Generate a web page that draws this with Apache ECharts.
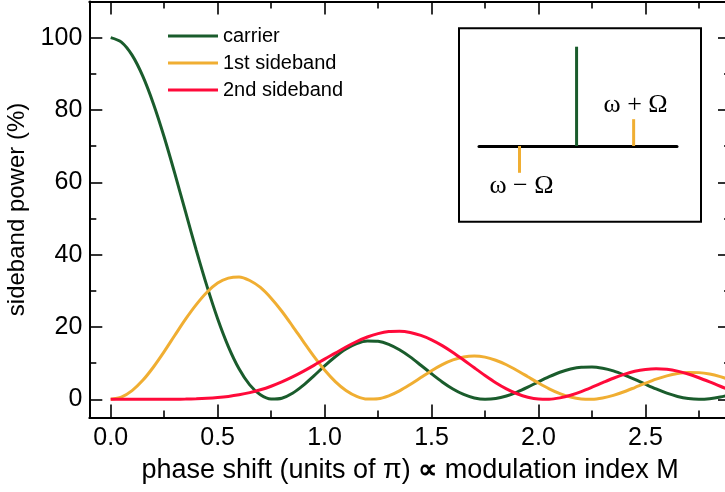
<!DOCTYPE html>
<html>
<head>
<meta charset="utf-8">
<title>Sideband power vs. phase shift</title>
<script src="https://cdn.jsdelivr.net/npm/echarts@6/dist/echarts.min.js"></script>
<style>
  html, body { margin: 0; padding: 0; background: #fff; }
  #chart { width: 725px; height: 492px; }
</style>
</head>
<body>
<div id="chart"></div>
<script>
// Phase shift in units of pi
const phase = [0, 0.05, 0.1, 0.15, 0.2, 0.25, 0.3, 0.35, 0.4, 0.45, 0.5, 0.55, 0.6, 0.65, 0.7, 0.75,
  0.8, 0.85, 0.9, 0.95, 1.0, 1.05, 1.1, 1.15, 1.2, 1.25, 1.3, 1.35, 1.4, 1.45, 1.5, 1.55, 1.6, 1.65,
  1.7, 1.75, 1.8, 1.85, 1.9, 1.95, 2.0, 2.05, 2.1, 2.15, 2.2, 2.25, 2.3, 2.35, 2.4, 2.45, 2.5, 2.55,
  2.6, 2.65, 2.7, 2.75, 2.8, 2.85, 2.9];

// Power in each spectral line (%)
const carrier = [100, 98.77, 95.16, 89.35, 81.67, 72.53, 62.40, 51.81, 41.25, 31.29, 22.28, 14.58,
  8.44, 3.99, 1.23, 0.07, 0.30, 1.67, 3.85, 6.49, 9.25, 11.77, 13.92, 15.42, 16.13, 16.04, 15.21,
  13.70, 11.74, 9.43, 7.06, 4.80, 2.85, 1.34, 0.38, 0.01, 0.20, 0.91, 2.01, 3.37, 4.85, 6.25, 7.49,
  8.38, 8.90, 8.96, 8.60, 7.86, 6.78, 5.53, 4.17, 2.86, 1.70, 0.80, 0.22, 0.00, 0.15, 0.62, 1.36];

const sideband1 = [0, 0.61, 2.41, 5.25, 8.94, 13.19, 17.71, 22.16, 26.18, 29.60, 32.13, 33.50,
  33.85, 32.86, 30.93, 27.96, 24.36, 20.27, 16.02, 11.88, 8.10, 4.89, 2.43, 0.81, 0.06, 0.14, 0.95,
  2.32, 4.09, 6.01, 7.92, 9.60, 10.90, 11.71, 11.97, 11.66, 10.80, 9.56, 7.98, 6.25, 4.51, 2.90,
  1.58, 0.62, 0.10, 0.03, 0.38, 1.10, 2.10, 3.26, 4.45, 5.57, 6.49, 7.13, 7.44, 7.38, 6.98, 6.26, 5.33];

const sideband2 = [0, 0, 0, 0, 0, 0.01, 0.03, 0.07, 0.14, 0.27, 0.48, 0.79, 1.24, 1.84, 2.63,
  3.62, 4.80, 6.18, 7.72, 9.38, 11.12, 12.77, 14.47, 15.99, 17.24, 18.16, 18.72, 18.81, 18.50,
  17.66, 16.45, 14.84, 12.95, 10.87, 8.71, 6.59, 4.60, 2.90, 1.54, 0.59, 0.08, 0.03, 0.40, 1.13,
  2.15, 3.34, 4.60, 5.83, 6.89, 7.75, 8.27, 8.47, 8.29, 7.79, 6.99, 5.97, 4.82, 3.61, 2.48];

const seriesNames = ['carrier', '1st sideband', '2nd sideband'];

// Axis ticks
const xMajorTicks = [0, 0.5, 1.0, 1.5, 2.0, 2.5];
const xMinorTicks = [0.25, 0.75, 1.25, 1.75, 2.25, 2.75];
const yMajorTicks = [0, 20, 40, 60, 80, 100];
const yMinorTicks = [10, 30, 50, 70, 90];

// Spectrum sketch: offset from carrier frequency (in units of Omega) and relative line height
const spectrumOffsets = [-1, 0, 1];
const spectrumHeights = [-0.27, 1, 0.27];
const spectrumLabels = ['ω − Ω', '', 'ω + Ω'];

const colors = { carrier: '#1a5c2c', side1: '#f0ae32', side2: '#ff0a3a' };
const sansFont = "'Liberation Sans', Arial, Helvetica, sans-serif";
const serifFont = "'Liberation Serif', 'Times New Roman', serif";

const zip = (xs, ys) => xs.map((x, i) => [x, ys[i]]);

function frameAxis(dim, position, ticks, tickLen, withLine) {
  const isX = dim === 'x';
  return {
    type: 'value',
    gridIndex: 0,
    position: position,
    min: isX ? -0.1 : -5,
    max: isX ? 2.9 : 110,
    axisLine: { show: withLine, onZero: false, lineStyle: { color: '#000', width: 2 } },
    axisTick: { show: true, inside: true, length: tickLen, customValues: ticks,
      lineStyle: { color: '#000', width: 1.6 } },
    axisLabel: { show: false },
    splitLine: { show: false },
    minorTick: { show: false }
  };
}

const xMain = frameAxis('x', 'bottom', xMajorTicks, 13, true);
xMain.axisLabel = {
  show: true, customValues: xMajorTicks, margin: 8,
  color: '#000', fontSize: 25, fontFamily: sansFont,
  formatter: v => v.toFixed(1)
};
xMain.name = '{t|phase shift (units of π)} {p|∝} {t|modulation index M}';
xMain.nameLocation = 'middle';
xMain.nameGap = 40;
xMain.nameTextStyle = {
  color: '#000', fontSize: 27, fontFamily: sansFont,
  rich: {
    t: { color: '#000', fontSize: 27, fontFamily: sansFont },
    p: { color: '#000', fontSize: 27, fontWeight: 'bold', fontFamily: sansFont }
  }
};

const yMain = frameAxis('y', 'left', yMajorTicks, 13, true);
yMain.axisLabel = {
  show: true, customValues: yMajorTicks, margin: 7,
  color: '#000', fontSize: 25, fontFamily: sansFont
};
yMain.name = 'sideband power (%)';
yMain.nameLocation = 'middle';
yMain.nameGap = 54;
yMain.nameTextStyle = { color: '#000', fontSize: 24, fontFamily: sansFont };

const option = {
  backgroundColor: '#fff',
  animation: false,
  grid: [
    { left: 89.3, right: -6, top: 1.5, bottom: 74.6, outerBoundsMode: 'none', containLabel: false },
    { left: 479, width: 198, top: 46.7, height: 126.1, outerBoundsMode: 'none', containLabel: false }
  ],
  xAxis: [
    xMain,
    frameAxis('x', 'bottom', xMinorTicks, 7, false),
    frameAxis('x', 'top', xMajorTicks, 13, true),
    frameAxis('x', 'top', xMinorTicks, 7, false),
    {
      type: 'value', gridIndex: 1, min: -1.71, max: 1.76,
      axisLine: { show: true, onZero: true, lineStyle: { color: '#000', width: 3 } },
      axisTick: { show: false }, axisLabel: { show: false }, splitLine: { show: false }
    }
  ],
  yAxis: [
    yMain,
    frameAxis('y', 'left', yMinorTicks, 7, false),
    frameAxis('y', 'right', yMajorTicks, 13, true),
    frameAxis('y', 'right', yMinorTicks, 7, false),
    {
      type: 'value', gridIndex: 1, min: -0.27, max: 1,
      axisLine: { show: false }, axisTick: { show: false },
      axisLabel: { show: false }, splitLine: { show: false }
    }
  ],
  legend: {
    orient: 'vertical',
    left: 168, top: 26, padding: 0,
    itemWidth: 50, itemHeight: 3, itemGap: 7,
    icon: 'rect',
    textStyle: { color: '#000', fontSize: 20, lineHeight: 20, fontFamily: sansFont },
    data: seriesNames
  },
  graphic: [
    {
      type: 'rect',
      shape: { x: 459, y: 28.3, width: 242, height: 193.4 },
      style: { fill: 'transparent', stroke: '#000', lineWidth: 2 },
      z: 1
    }
  ],
  series: [
    {
      name: seriesNames[0], type: 'line', xAxisIndex: 0, yAxisIndex: 0,
      data: zip(phase, carrier), symbol: 'none', smooth: 0.3,
      itemStyle: { color: colors.carrier }, lineStyle: { color: colors.carrier, width: 3 }, z: 3
    },
    {
      name: seriesNames[1], type: 'line', xAxisIndex: 0, yAxisIndex: 0,
      data: zip(phase, sideband1), symbol: 'none', smooth: 0.3,
      itemStyle: { color: colors.side1 }, lineStyle: { color: colors.side1, width: 3 }, z: 4
    },
    {
      name: seriesNames[2], type: 'line', xAxisIndex: 0, yAxisIndex: 0,
      data: zip(phase, sideband2), symbol: 'none', smooth: 0.3,
      itemStyle: { color: colors.side2 }, lineStyle: { color: colors.side2, width: 3 }, z: 5
    },
    {
      name: 'spectrum', type: 'bar', xAxisIndex: 4, yAxisIndex: 4,
      barWidth: 3,
      data: spectrumOffsets.map((x, i) => ({
        value: [x, spectrumHeights[i]],
        itemStyle: { color: i === 1 ? colors.carrier : colors.side1 },
        label: {
          show: spectrumLabels[i] !== '',
          formatter: spectrumLabels[i],
          position: spectrumHeights[i] < 0 ? 'bottom' : 'top',
          distance: spectrumHeights[i] < 0 ? 0 : 1,
          offset: [2, 0],
          color: '#000', fontSize: 26, fontFamily: serifFont
        }
      })),
      z: 3
    }
  ]
};

const chart = echarts.init(document.getElementById('chart'), null, { renderer: 'canvas' });
chart.setOption(option);
</script>
</body>
</html>
